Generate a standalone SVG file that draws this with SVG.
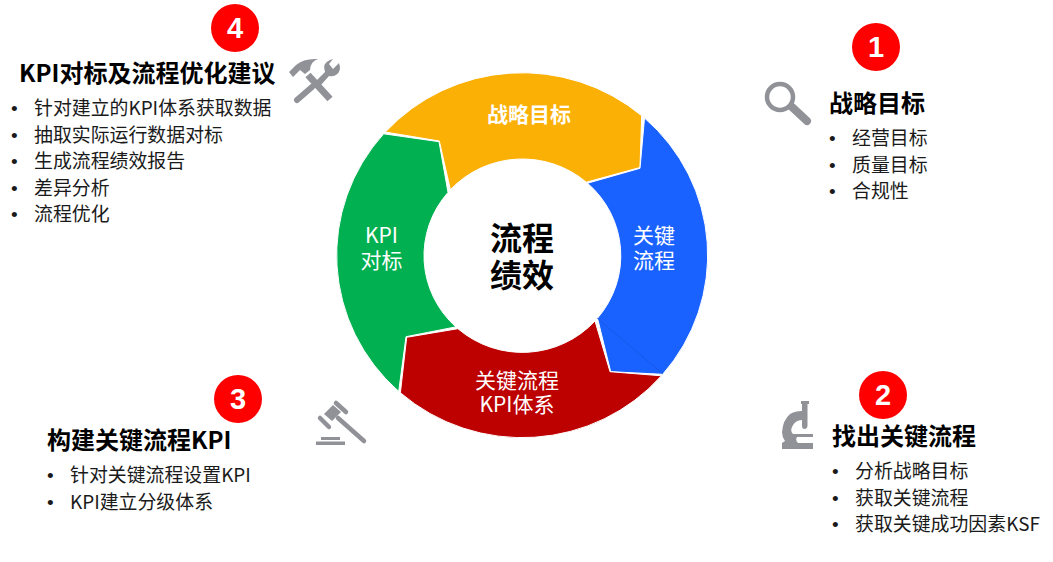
<svg xmlns="http://www.w3.org/2000/svg" width="1053" height="562" viewBox="0 0 1053 562">
<style>
text{font-family:"Noto Sans CJK SC","Noto Sans",sans-serif}
.h{font-size:24px;font-weight:700;fill:#000}
.l{font-size:18.900px;fill:#1a1a1a}
text.b{font-size:19px;fill:#1a1a1a;font-family:"Liberation Sans",sans-serif}
text.n{font-size:29px;font-weight:700;fill:#fff;font-family:"Liberation Sans",sans-serif;text-anchor:middle}
.s{font-size:21px;fill:#fff;text-anchor:middle}
.i{fill:#909298}
.t{stroke:#909298;fill:none}
.seg{stroke:#fff;stroke-width:1}
</style>
<rect width="1053" height="562" fill="#fff"/>
<g id="ring">
<g id="seg-yellow"><path class="seg" fill="#fbb006" d="M385.300 132.050A185.500 182.500 0 0 1 641.700 115.700L640 167.500L586.300 182.200A98.400 96.700 0 0 0 450.400 189.700L439.300 141Z"/><text x="529" y="122" class="s" style="font-weight:700">战略目标</text></g>
<g id="seg-blue"><path class="seg" fill="#1a62ff" d="M644.500 118A185.500 182.500 0 0 1 662.700 374.300L610.700 371.700L597.500 318.200A98.400 96.700 0 0 0 587.500 183.200L640 168.300Z"/><path d="M597 318L663 374" stroke="#1450d8" stroke-width=".6" fill="none"/><text x="654" y="243" class="s">关键</text><text x="654" y="268" class="s">流程</text></g>
<g id="seg-red"><path class="seg" fill="#bd0000" d="M661.400 375.800A185.500 182.500 0 0 1 400.400 392.800L406.700 337.300L457.900 328.700A98.400 96.700 0 0 0 595 321L610 371.700Z"/><text x="517" y="388" class="s">关键流程</text><text x="517" y="412" class="s">KPI体系</text></g>
<g id="seg-green"><path class="seg" fill="#01b050" d="M398.700 391.400A185.500 182.500 0 0 1 383.700 133.800L439 141.700L448 192.400A98.400 96.700 0 0 0 455.800 326.900L406 336.700Z"/><text x="381.500" y="243" class="s">KPI</text><text x="381.500" y="268" class="s">对标</text></g>
<g id="center"><text x="522" y="250" text-anchor="middle" font-size="32" font-weight="700" fill="#000">流程</text><text x="522" y="287" text-anchor="middle" font-size="32" font-weight="700" fill="#000">绩效</text></g>
</g>
<g id="step-1">
<circle cx="876" cy="47" r="24" fill="#fe0000"/><text x="876" y="57" class="n">1</text>
<g class="icon"><ellipse cx="780" cy="97" rx="13" ry="13" class="t" stroke-width="4.500"/><path d="M792 107L807 121" class="t" stroke-width="8" stroke-linecap="round"/></g>
<text x="829" y="112" class="h">战略目标</text>
<text x="829" y="145" class="b">•</text><text x="852" y="145" class="l">经营目标</text>
<text x="829" y="172" class="b">•</text><text x="852" y="172" class="l">质量目标</text>
<text x="829" y="198" class="b">•</text><text x="852" y="198" class="l">合规性</text>
</g>
<g id="step-2">
<circle cx="883" cy="395" r="24" fill="#fe0000"/><text x="883" y="405" class="n">2</text>
<path class="i" d="M801 401H809V404H807.500V426Q807 429 804.500 429Q802 429 802 426V420Q795 420 792 427Q790 431 793 434H813V437H797Q795 440 798 443H813V449H782V443L785 441Q782 437 782 432Q783 420 790 414Q795 411 802 411V404H801Z"/>
<text x="832" y="445" class="h">找出关键流程</text>
<text x="832" y="478" class="b">•</text><text x="855" y="478" class="l">分析战略目标</text>
<text x="832" y="505" class="b">•</text><text x="855" y="505" class="l">获取关键流程</text>
<text x="832" y="531" class="b">•</text><text x="855" y="531" class="l">获取关键成功因素KSF</text>
</g>
<g id="step-3">
<circle cx="238" cy="399" r="24" fill="#fe0000"/><text x="238" y="409" class="n">3</text>
<g class="icon"><path class="i" d="M324 414L333 405L341 412L332 421Z"/><path d="M320 418L329 427M336 403L346 412" class="t" stroke-width="4.500" stroke-linecap="round"/><path d="M338 418L364 441" class="t" stroke-width="4.500" stroke-linecap="round"/><rect x="321" y="437" width="19" height="3" class="i"/><rect x="316" y="441.500" width="29" height="3.500" class="i"/></g>
<text x="47" y="449" class="h">构建关键流程KPI</text>
<text x="47" y="482" class="b">•</text><text x="70" y="482" class="l">针对关键流程设置KPI</text>
<text x="47" y="509" class="b">•</text><text x="70" y="509" class="l">KPI建立分级体系</text>
</g>
<g id="step-4">
<circle cx="235" cy="28" r="24" fill="#fe0000"/><text x="235" y="38" class="n">4</text>
<g class="icon"><path class="i" d="M289 72L296 65Q304 58 318 59Q310 62 310 70L305 74L300 70L293 77Z"/><path d="M308 75L330 99" class="t" stroke-width="7"/><path d="M297 100L312 87" class="t" stroke-width="6" stroke-linecap="round"/><path class="i" d="M316 81L325 72Q322 63 330 60L333 59L329 64L333 69L339 63Q342 71 336 75Q332 77 329 76L321 85Z"/></g>
<text x="19" y="82" class="h">KPI对标及流程优化建议</text>
<text x="11" y="115" class="b">•</text><text x="34" y="115" class="l">针对建立的KPI体系获取数据</text>
<text x="11" y="142" class="b">•</text><text x="34" y="142" class="l">抽取实际运行数据对标</text>
<text x="11" y="168" class="b">•</text><text x="34" y="168" class="l">生成流程绩效报告</text>
<text x="11" y="195" class="b">•</text><text x="34" y="195" class="l">差异分析</text>
<text x="11" y="221" class="b">•</text><text x="34" y="221" class="l">流程优化</text>
</g>
</svg>
